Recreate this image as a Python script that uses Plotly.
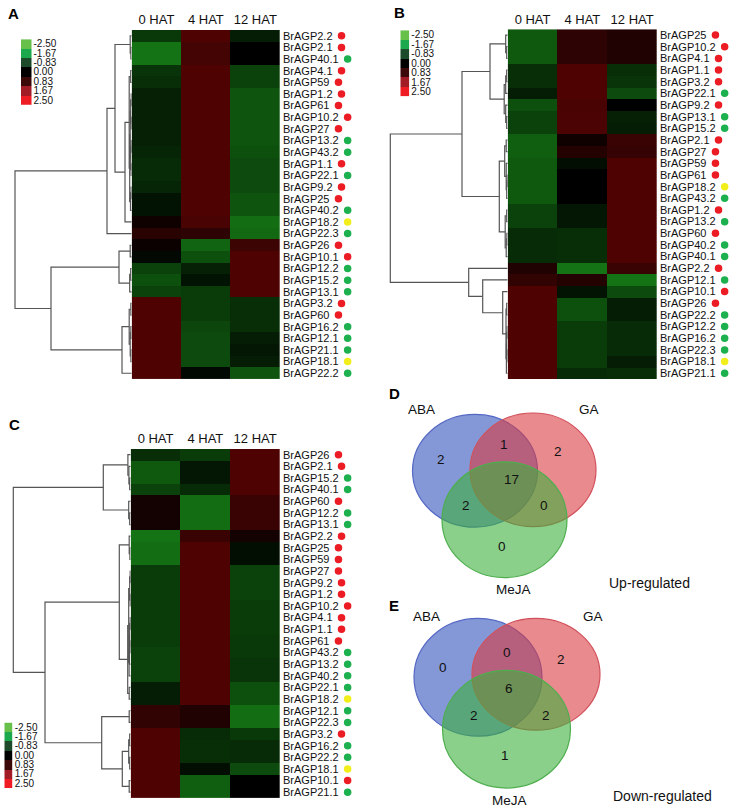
import plotly.graph_objects as go

W, H = 732, 807
FONT = "Liberation Sans, Arial, Helvetica, sans-serif"

# ---------------- data ----------------
columns = ["0 HAT", "4 HAT", "12 HAT"]
legend_values = [-2.50, -1.67, -0.83, 0.00, 0.83, 1.67, 2.50]
legend_colors = ["#66c04a", "#1ca84c", "#1e4a2c", "#000000", "#3c0909", "#a21c25", "#f01c24"]

red_genes = ["BrAGP2.2", "BrAGP2.1", "BrAGP4.1", "BrAGP59", "BrAGP1.2", "BrAGP61", "BrAGP10.2",
             "BrAGP27", "BrAGP1.1", "BrAGP9.2", "BrAGP25", "BrAGP26", "BrAGP10.1", "BrAGP3.2", "BrAGP60"]
green_genes = ["BrAGP40.1", "BrAGP13.2", "BrAGP43.2", "BrAGP22.1", "BrAGP40.2", "BrAGP22.3",
               "BrAGP12.2", "BrAGP15.2", "BrAGP13.1", "BrAGP16.2", "BrAGP12.1", "BrAGP21.1", "BrAGP22.2"]
yellow_genes = ["BrAGP18.2", "BrAGP18.1"]

# Panel A (ABA)
genes_A = ["BrAGP2.2", "BrAGP2.1", "BrAGP40.1", "BrAGP4.1", "BrAGP59", "BrAGP1.2", "BrAGP61",
           "BrAGP10.2", "BrAGP27", "BrAGP13.2", "BrAGP43.2", "BrAGP1.1", "BrAGP22.1", "BrAGP9.2",
           "BrAGP25", "BrAGP40.2", "BrAGP18.2", "BrAGP22.3", "BrAGP26", "BrAGP10.1", "BrAGP12.2",
           "BrAGP15.2", "BrAGP13.1", "BrAGP3.2", "BrAGP60", "BrAGP16.2", "BrAGP12.1", "BrAGP21.1",
           "BrAGP18.1", "BrAGP22.2"]
values_A = [
    [-0.6, 1.0, -0.3], [-1.2, 0.85, 0.0], [-1.2, 0.85, 0.0], [-0.55, 1.0, -0.7], [-0.5, 1.0, -0.7],
    [-0.35, 1.0, -0.9], [-0.35, 1.0, -0.9], [-0.35, 1.0, -0.9], [-0.35, 1.0, -0.9], [-0.35, 1.0, -0.9],
    [-0.4, 1.0, -0.85], [-0.45, 1.0, -0.8], [-0.45, 1.0, -0.8], [-0.4, 1.0, -0.8], [-0.2, 1.0, -0.9],
    [-0.2, 1.0, -0.9], [0.2, 0.9, -1.15], [0.5, 0.55, -1.1], [0.15, -1.05, 0.75], [-0.1, -0.85, 1.0],
    [-0.7, -0.35, 1.0], [-0.85, -0.2, 1.0], [-0.7, -0.65, 1.0], [1.0, -0.65, -0.5], [1.0, -0.65, -0.5],
    [1.0, -0.75, -0.5], [1.0, -0.8, -0.3], [1.0, -0.8, -0.25], [1.0, -0.8, -0.3], [1.0, -0.1, -0.9]]
links_A = [(1, 2, 0.8), (0, 30, 1.5), (5, 6, 0.5), (7, 8, 0.5), (32, 33, 1.0), (9, 10, 0.5),
           (11, 12, 0.6), (35, 36, 1.0), (34, 37, 1.5), (13, 14, 0.6), (39, 15, 1.2), (38, 40, 2.0),
           (3, 4, 1.0), (42, 41, 2.5), (43, 16, 6.7), (31, 44, 16.7), (45, 17, 24.7),
           (18, 19, 1.5), (20, 21, 1.0), (48, 22, 2.0), (47, 49, 12.7), (23, 24, 0.8), (25, 26, 0.8),
           (27, 28, 0.8), (52, 53, 1.5), (51, 54, 2.5), (55, 29, 9.7), (50, 56, 80.7), (46, 57, 116.7)]

# Panel B (GA)
genes_B = ["BrAGP25", "BrAGP10.2", "BrAGP4.1", "BrAGP1.1", "BrAGP3.2", "BrAGP22.1", "BrAGP9.2",
           "BrAGP13.1", "BrAGP15.2", "BrAGP2.1", "BrAGP27", "BrAGP59", "BrAGP61", "BrAGP18.2",
           "BrAGP43.2", "BrAGP1.2", "BrAGP13.2", "BrAGP60", "BrAGP40.2", "BrAGP40.1", "BrAGP2.2",
           "BrAGP12.1", "BrAGP10.1", "BrAGP26", "BrAGP22.2", "BrAGP12.2", "BrAGP16.2", "BrAGP22.3",
           "BrAGP18.1", "BrAGP21.1"]
values_B = [
    [-0.95, 0.55, 0.4], [-0.95, 0.55, 0.4], [-0.95, 0.55, 0.4], [-0.5, 1.0, -0.5], [-0.5, 1.0, -0.55],
    [-0.3, 1.0, -0.8], [-0.85, 0.9, 0.0], [-0.7, 0.95, -0.35], [-0.7, 0.95, -0.3], [-1.0, 0.2, 0.7],
    [-1.0, 0.45, 0.65], [-0.95, -0.15, 1.0], [-0.95, 0.0, 1.0], [-0.95, 0.0, 1.0], [-0.95, 0.0, 1.0],
    [-0.7, -0.25, 1.0], [-0.7, -0.25, 1.0], [-0.45, -0.5, 1.0], [-0.45, -0.5, 1.0], [-0.45, -0.5, 1.0],
    [0.4, -1.2, 0.7], [0.6, 0.45, -1.2], [1.0, -0.2, -0.8], [1.0, -0.85, -0.3], [1.0, -0.85, -0.3],
    [1.0, -0.65, -0.45], [1.0, -0.65, -0.45], [1.0, -0.65, -0.45], [1.0, -0.65, -0.3], [1.0, -0.45, -0.5]]
links_B = [(1, 2, 1.0), (0, 30, 2.0), (3, 4, 1.0), (32, 5, 2.0), (7, 8, 1.0), (6, 34, 2.0),
           (33, 35, 3.5), (31, 36, 17.7), (9, 10, 1.5), (12, 13, 0.5), (39, 14, 1.0), (11, 40, 1.5),
           (38, 41, 3.0), (15, 16, 1.0), (17, 18, 0.8), (44, 19, 1.5), (43, 45, 2.5), (42, 46, 8.4),
           (37, 47, 45.7), (23, 24, 1.0), (25, 26, 0.6), (27, 28, 0.6), (50, 51, 1.0), (52, 29, 1.3),
           (49, 53, 1.7), (22, 54, 5.0), (21, 55, 25.0), (20, 56, 39.0), (48, 57, 117.4)]

# Panel C (MeJA)
genes_C = ["BrAGP26", "BrAGP2.1", "BrAGP15.2", "BrAGP40.1", "BrAGP60", "BrAGP12.2", "BrAGP13.1",
           "BrAGP2.2", "BrAGP25", "BrAGP59", "BrAGP27", "BrAGP9.2", "BrAGP1.2", "BrAGP10.2",
           "BrAGP4.1", "BrAGP1.1", "BrAGP61", "BrAGP43.2", "BrAGP13.2", "BrAGP40.2", "BrAGP22.1",
           "BrAGP18.2", "BrAGP12.1", "BrAGP22.3", "BrAGP3.2", "BrAGP16.2", "BrAGP22.2", "BrAGP18.1",
           "BrAGP10.1", "BrAGP21.1"]
values_C = [
    [-0.5, -0.65, 1.0], [-0.95, -0.25, 1.0], [-0.95, -0.25, 1.0], [-0.7, -0.45, 1.0], [0.25, -1.15, 0.7],
    [0.25, -1.15, 0.7], [0.25, -1.15, 0.7], [-1.2, 0.7, 0.25], [-1.15, 1.0, -0.15], [-1.15, 1.0, -0.15],
    [-0.65, 1.0, -0.7], [-0.65, 1.0, -0.7], [-0.65, 1.0, -0.7], [-0.65, 1.0, -0.65], [-0.65, 1.0, -0.65],
    [-0.65, 1.0, -0.65], [-0.65, 1.0, -0.6], [-0.7, 1.0, -0.6], [-0.7, 1.0, -0.55], [-0.7, 1.0, -0.55],
    [-0.3, 1.0, -0.85], [-0.3, 1.0, -0.85], [0.6, 0.4, -1.15], [0.6, 0.4, -1.15], [1.0, -0.45, -0.6],
    [1.0, -0.5, -0.45], [1.0, -0.5, -0.45], [1.0, -0.15, -0.8], [1.0, -1.0, 0.0], [1.0, -1.0, 0.0]]
links_C = [(2, 3, 1.0), (1, 30, 1.8), (0, 31, 2.8), (5, 6, 1.0), (4, 33, 2.0), (32, 34, 27.4),
           (8, 9, 0.8), (7, 36, 1.5), (10, 11, 0.5), (12, 13, 0.5), (38, 39, 1.0), (14, 15, 0.5),
           (16, 17, 0.6), (41, 42, 1.0), (43, 18, 1.3), (44, 19, 1.6), (40, 45, 2.0), (20, 21, 1.5),
           (46, 47, 3.0), (37, 48, 11.4), (22, 23, 1.5), (24, 25, 1.0), (26, 27, 1.0), (51, 52, 2.0),
           (28, 29, 1.5), (53, 54, 8.4), (50, 55, 29.0), (49, 56, 85.7), (35, 57, 117.4)]

# Venn diagrams: regions ABA, GA, MeJA, ABA&GA, ABA&MeJA, GA&MeJA, all three
venn_sets = ["ABA", "GA", "MeJA"]
up_counts = [2, 2, 0, 1, 2, 0, 17]
down_counts = [0, 2, 1, 0, 2, 2, 6]

# ---------------- styling / layout geometry ----------------
cell_scale = [[0.0, "#2ee02e"], [0.25, "#157815"], [0.334, "#0d4d0d"], [0.5, "#000000"],
              [0.666, "#440404"], [0.75, "#600000"], [1.0, "#e01010"]]
legend_scale = [[i / 6, c] for i, c in enumerate(legend_colors)]
dot_color = {}
for g in red_genes:
    dot_color[g] = "#ec1c24"
for g in green_genes:
    dot_color[g] = "#1db04e"
for g in yellow_genes:
    dot_color[g] = "#f2ee1c"

# Arial / Liberation Sans advance widths (em) to place the class dot after each label
CHAR_W = {"B": 0.667, "r": 0.333, "A": 0.667, "G": 0.778, "P": 0.667, ".": 0.278}
CHAR_W.update({d: 0.556 for d in "0123456789"})
LABEL_SIZE = 11
LABEL_START = 4.0   # px from heatmap edge to label start
DOT_GAP = 8.0       # px from label end to dot centre


def label_width(s):
    return LABEL_SIZE * sum(CHAR_W.get(c, 0.556) for c in s)


panels = [
    dict(genes=genes_A, values=values_A, links=links_A, hm=(131.7, 280, 29, 379),
         leg=(21, 31.5, 38.3, 104), left=0, letter=("A", 13, 13)),
    dict(genes=genes_B, values=values_B, links=links_B, hm=(507.7, 657, 28.3, 379),
         leg=(400.3, 409.3, 29.3, 95.7), left=366, letter=("B", 399, 12)),
    dict(genes=genes_C, values=values_C, links=links_C, hm=(130.7, 280, 449, 799),
         leg=(4.3, 12.7, 723.3, 789), left=0, letter=("C", 15, 425)),
]


def xdom(a, b):
    return [a / W, b / W]


def ydom(top, bottom):
    return [1 - bottom / H, 1 - top / H]


def dendro_lines(links, n):
    pos = {i: float(i) for i in range(n)}
    hgt = {i: 0.0 for i in range(n)}
    xs, ys = [], []
    for k, (a, b, h) in enumerate(links):
        xs += [hgt[a], h, h, hgt[b], None]
        ys += [pos[a], pos[a], pos[b], pos[b], None]
        pos[n + k] = (pos[a] + pos[b]) / 2
        hgt[n + k] = h
    return xs, ys


fig = go.Figure()
layout = dict(width=W, height=H, margin=dict(l=0, r=0, t=0, b=0), paper_bgcolor="white",
              plot_bgcolor="rgba(0,0,0,0)", showlegend=False, font=dict(family=FONT, color="#111"))
annotations = []
shapes = []

hidden = dict(visible=False, showgrid=False, zeroline=False, fixedrange=True)

for p_i, p in enumerate(panels):
    n = len(p["genes"])
    base = p_i * 3
    ids = [base + 1, base + 2, base + 3]
    xa = ["x" + ("" if i == 1 else str(i)) for i in ids]
    ya = ["y" + ("" if i == 1 else str(i)) for i in ids]
    xk = ["xaxis" + ("" if i == 1 else str(i)) for i in ids]
    yk = ["yaxis" + ("" if i == 1 else str(i)) for i in ids]
    x0, x1, y0, y1 = p["hm"]

    # heatmap
    fig.add_trace(go.Heatmap(z=p["values"], x=list(range(3)), y=list(range(n)), colorscale=cell_scale,
                             zmin=-2.5, zmax=2.5, showscale=False, xaxis=xa[0], yaxis=ya[0],
                             hoverinfo="skip"))
    layout[xk[0]] = dict(domain=xdom(x0, x1), range=[-0.5, 2.5], anchor=ya[0], side="top",
                         tickvals=list(range(3)), ticktext=columns, ticks="", showgrid=False,
                         zeroline=False, showline=False, fixedrange=True,
                         tickfont=dict(size=13, family=FONT, color="#111"), ticklabelstandoff=2)
    layout[yk[0]] = dict(domain=ydom(y0, y1), range=[n - 0.5, -0.5], anchor=xa[0], side="right",
                         tickvals=list(range(n)), ticktext=p["genes"], ticks="", showgrid=False,
                         zeroline=False, showline=False, fixedrange=True,
                         tickfont=dict(size=LABEL_SIZE, family=FONT, color="#111"), ticklabelstandoff=2)

    # class dots after labels (overlay x axis in px, sharing the heatmap rows)
    dot_ax = 11 + p_i
    span = min(x1 + 80, W) - x1
    fig.add_trace(go.Scatter(
        x=[LABEL_START + label_width(g) + DOT_GAP for g in p["genes"]], y=list(range(n)),
        mode="markers", marker=dict(size=7.5, color=[dot_color[g] for g in p["genes"]], line=dict(width=0)),
        xaxis=f"x{dot_ax}", yaxis=ya[0], hoverinfo="skip"))
    layout[f"xaxis{dot_ax}"] = dict(hidden, domain=xdom(x1, x1 + span), range=[0, span], anchor=ya[0])

    # dendrogram
    xs, ys = dendro_lines(p["links"], n)
    fig.add_trace(go.Scatter(x=xs, y=ys, mode="lines", line=dict(color="#555555", width=1.2),
                             xaxis=xa[1], yaxis=ya[1], hoverinfo="skip"))
    layout[xk[1]] = dict(hidden, domain=xdom(p["left"], x0), range=[x0 - p["left"], 0], anchor=ya[1])
    layout[yk[1]] = dict(hidden, domain=ydom(y0, y1), range=[n - 0.5, -0.5], anchor=xa[1])

    # colour key
    lx0, lx1, ly0, ly1 = p["leg"]
    fig.add_trace(go.Heatmap(z=[[v] for v in legend_values], x=[0], y=list(range(len(legend_values))),
                             colorscale=legend_scale, zmin=-2.5, zmax=2.5, showscale=False,
                             xaxis=xa[2], yaxis=ya[2], hoverinfo="skip"))
    layout[xk[2]] = dict(hidden, domain=xdom(lx0, lx1), range=[-0.5, 0.5], anchor=ya[2])
    layout[yk[2]] = dict(domain=ydom(ly0, ly1), range=[len(legend_values) - 0.5, -0.5], anchor=xa[2],
                         side="right", tickvals=list(range(len(legend_values))),
                         ticktext=[f"{v:.2f}" for v in legend_values], ticks="", showgrid=False,
                         zeroline=False, showline=False, fixedrange=True, ticklabelstandoff=1,
                         tickfont=dict(size=10, family=FONT, color="#111"))

    letter, ltx, lty = p["letter"]
    annotations.append(dict(text=f"<b>{letter}</b>", x=ltx / W, y=1 - lty / H, xref="paper",
                            yref="paper", showarrow=False, font=dict(size=15, family=FONT, color="#000"),
                            xanchor="center", yanchor="middle"))

# ---------------- Venn diagrams (pixel axis) ----------------
layout["xaxis10"] = dict(hidden, domain=[0, 1], range=[0, W], anchor="y10")
layout["yaxis10"] = dict(hidden, domain=[0, 1], range=[H, 0], anchor="x10")
fig.add_trace(go.Scatter(x=[], y=[], xaxis="x10", yaxis="y10"))

venn_fill = ["rgba(50,82,187,0.6)", "rgba(217,60,67,0.6)", "rgba(60,177,60,0.6)"]
venn_line = ["#5468c4", "#d2505a", "#4eae4e"]

venns = [
    dict(counts=up_counts, title="Up-regulated", title_xy=(649, 583), letter=("D", 394, 393),
         circles=[(475, 471, 62.5, 56.5), (533, 470, 63, 57), (504.5, 520, 62.5, 58)],
         set_xy=[(421, 410), (589, 410), (513, 590)],
         region_xy=[(441, 460), (558, 452), (502, 547), (504, 445), (466, 506), (544, 506), (511, 480)]),
    dict(counts=down_counts, title="Down-regulated", title_xy=(662, 797), letter=("E", 394, 606),
         circles=[(478, 678, 64, 59), (536, 675, 64, 56), (506.5, 730, 64, 59)],
         set_xy=[(426, 617), (593, 617), (509, 801)],
         region_xy=[(443, 668), (561, 660), (505, 756), (507, 653), (474, 716), (546, 716), (509, 689)]),
]

for v in venns:
    for (cx, cy, rx, ry), fc, lc in zip(v["circles"], venn_fill, venn_line):
        shapes.append(dict(type="circle", xref="x10", yref="y10", x0=cx - rx, x1=cx + rx,
                           y0=cy - ry, y1=cy + ry, fillcolor=fc, line=dict(color=lc, width=1.2),
                           layer="above"))
    for name, (sx, sy) in zip(venn_sets, v["set_xy"]):
        annotations.append(dict(text=name, x=sx, y=sy, xref="x10", yref="y10", showarrow=False,
                                font=dict(size=13.5, family=FONT, color="#111")))
    for cnt, (rx_, ry_) in zip(v["counts"], v["region_xy"]):
        annotations.append(dict(text=str(cnt), x=rx_, y=ry_, xref="x10", yref="y10", showarrow=False,
                                font=dict(size=13.5, family=FONT, color="#111")))
    tx, ty = v["title_xy"]
    annotations.append(dict(text=v["title"], x=tx, y=ty, xref="x10", yref="y10", showarrow=False,
                            font=dict(size=14, family=FONT, color="#111")))
    letter, ltx, lty = v["letter"]
    annotations.append(dict(text=f"<b>{letter}</b>", x=ltx, y=lty, xref="x10", yref="y10",
                            showarrow=False, font=dict(size=15, family=FONT, color="#000")))

layout["annotations"] = annotations
layout["shapes"] = shapes
fig.update_layout(**layout)
fig.write_html("out.html", config={"displayModeBar": False},
               post_script="document.body.style.margin='0';")
